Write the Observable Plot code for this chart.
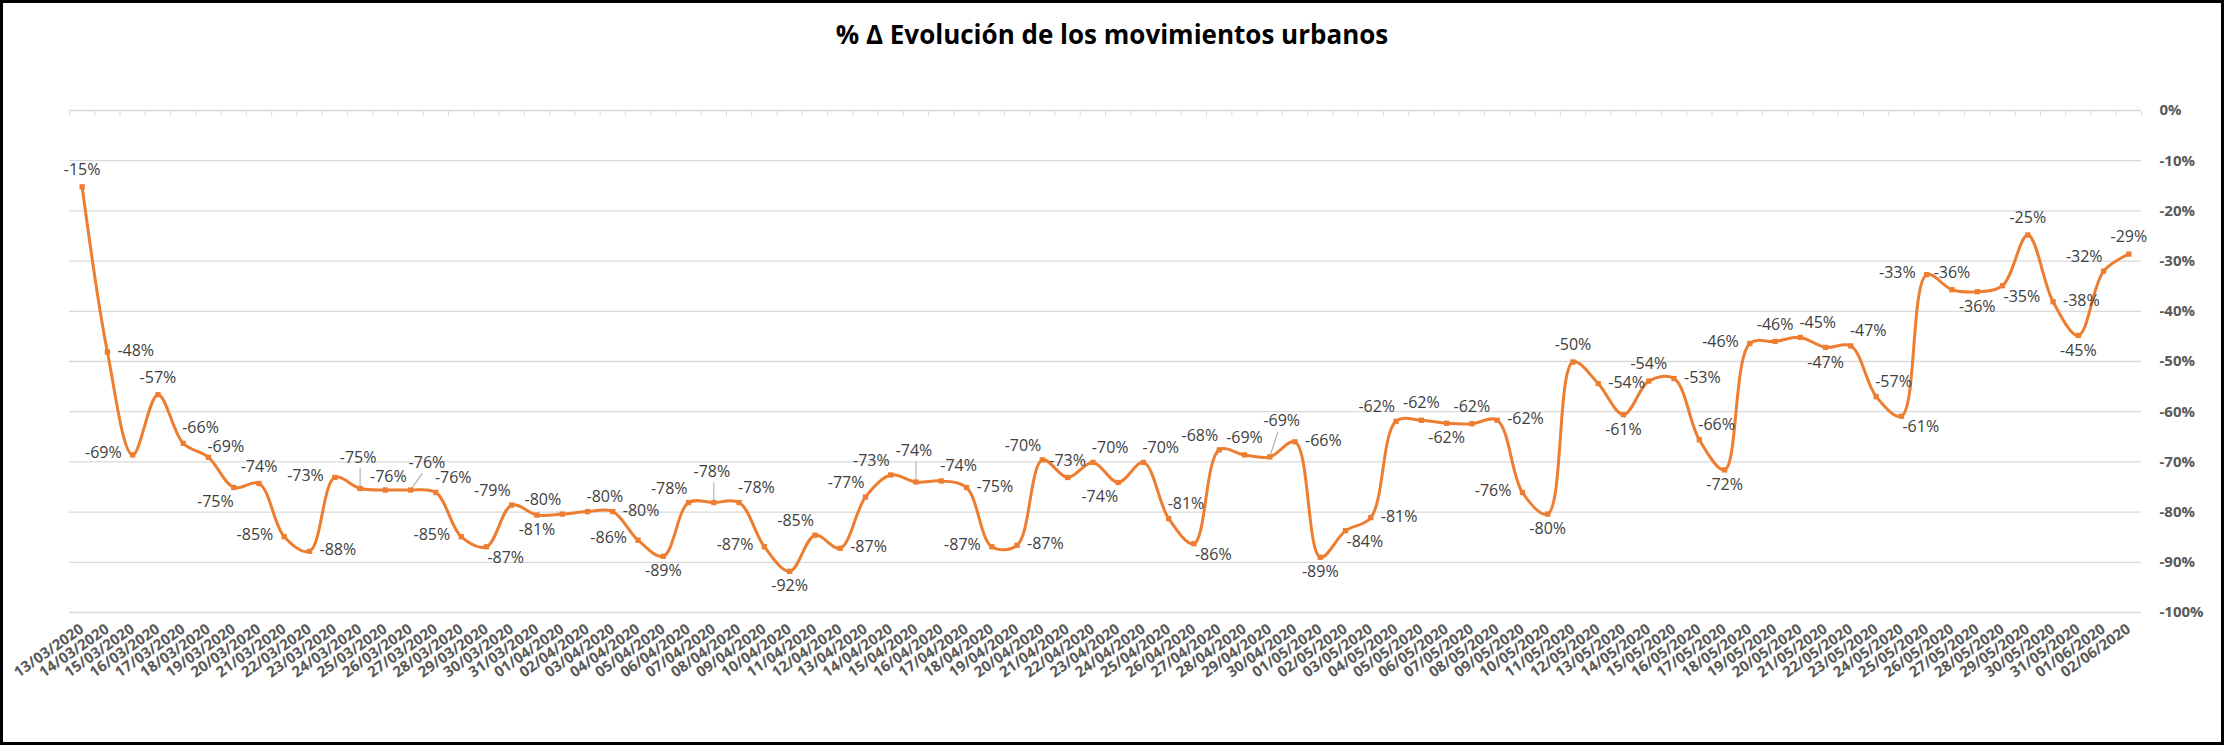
<!DOCTYPE html>
<html><head><meta charset="utf-8">
<script src="https://cdn.jsdelivr.net/npm/d3@7"></script>
<script src="https://cdn.jsdelivr.net/npm/@observablehq/plot@0.6"></script>
<style>
html,body{margin:0;padding:0;background:#fff;}
#wrap{position:relative;width:2224px;height:745px;overflow:hidden;background:#fff;}
#frame{position:absolute;left:0;top:0;width:2224px;height:745px;box-sizing:border-box;border:3px solid #000;pointer-events:none;z-index:3}
#title{position:absolute;left:0;top:16px;width:2224px;text-align:center;font-family:"Open Sans";font-weight:700;font-size:26px;line-height:36px;color:#000;z-index:2}
#chart{position:absolute;left:0;top:0;z-index:1}
</style></head><body>
<div id="wrap"><div id="title">% Δ Evolución de los movimientos urbanos</div><div id="chart"></div><div id="frame"></div></div>
<script>
const dates = [
"13/03/2020","14/03/2020","15/03/2020","16/03/2020","17/03/2020","18/03/2020","19/03/2020","20/03/2020","21/03/2020","22/03/2020",
"23/03/2020","24/03/2020","25/03/2020","26/03/2020","27/03/2020","28/03/2020","29/03/2020","30/03/2020","31/03/2020",
"01/04/2020","02/04/2020","03/04/2020","04/04/2020","05/04/2020","06/04/2020","07/04/2020","08/04/2020","09/04/2020","10/04/2020",
"11/04/2020","12/04/2020","13/04/2020","14/04/2020","15/04/2020","16/04/2020","17/04/2020","18/04/2020","19/04/2020","20/04/2020",
"21/04/2020","22/04/2020","23/04/2020","24/04/2020","25/04/2020","26/04/2020","27/04/2020","28/04/2020","29/04/2020","30/04/2020",
"01/05/2020","02/05/2020","03/05/2020","04/05/2020","05/05/2020","06/05/2020","07/05/2020","08/05/2020","09/05/2020","10/05/2020",
"11/05/2020","12/05/2020","13/05/2020","14/05/2020","15/05/2020","16/05/2020","17/05/2020","18/05/2020","19/05/2020","20/05/2020",
"21/05/2020","22/05/2020","23/05/2020","24/05/2020","25/05/2020","26/05/2020","27/05/2020","28/05/2020","29/05/2020","30/05/2020",
"31/05/2020","01/06/2020","02/06/2020"];

const values = [
-15.2,-48.1,-68.6,-56.6,-66.3,-69.1,-75.1,-74.3,-84.9,-87.8,
-73.1,-75.3,-75.6,-75.6,-76.1,-84.9,-86.9,-78.6,-80.6,
-80.4,-79.9,-79.9,-85.6,-88.8,-78.1,-78.1,-78.1,-86.9,-91.8,
-84.6,-87.2,-77.0,-72.6,-74.0,-73.8,-75.1,-86.9,-86.6,-69.6,
-73.1,-70.1,-74.1,-70.1,-81.3,-86.3,-67.6,-68.6,-69.0,-66.0,
-89.0,-83.7,-81.1,-61.9,-61.7,-62.3,-62.4,-61.7,-76.1,-80.4,
-50.1,-54.4,-60.6,-53.9,-53.4,-65.6,-71.6,-46.4,-46.0,-45.2,
-47.2,-46.9,-57.0,-60.9,-32.7,-35.7,-36.1,-34.9,-24.8,-38.1,
-44.8,-32.0,-28.6];

// where each data label sits relative to its marker
// t=above, m=just above, b=below, l=left, r=right, tl/tr/bl/br/rt=diagonal,
// T/TR/TT=raised with a leader line
const labelPlacement = [
"t","r","l","t","tr","rt","bl","t","l","r",
"l","T","m","TR","tr","l","br","tl","b",
"tl","tr","r","l","b","tl","T","tr","l","b",
"tl","r","tl","tl","T","tr","r","l","r","tl",
"t","tr","bl","tr","tr","br","tl","t","TT","r",
"b","br","r","tl","t","b","t","r","l","b",
"t","r","b","t","r","tr","b","l","t","tr",
"b","tr","tr","br","l","t","b","br","t","r",
"b","tl","t"];

const yTicks = [0,-10,-20,-30,-40,-50,-60,-70,-80,-90,-100];

const W = 2224, H = 745;
const mL = 69, mR = 83, mT = 110, mB = 133;
const step = (W - mL - mR) / dates.length;

const data = dates.map((d, i) => ({date: d, value: values[i], pos: labelPlacement[i]}));
const pct = v => `${Math.round(v)}%`;

const placements = {
  t:  {dx: 0,   dy: -17, textAnchor: "middle"},
  m:  {dx: 3,   dy: -13, textAnchor: "middle"},
  T:  {dx: -2,  dy: -31, textAnchor: "middle"},
  TT: {dx: 12,  dy: -36, textAnchor: "middle"},
  b:  {dx: 0,   dy: 15,  textAnchor: "middle"},
  l:  {dx: -11, dy: -2,  textAnchor: "end"},
  r:  {dx: 10,  dy: -1,  textAnchor: "start"},
  tl: {dx: -1,  dy: -14, textAnchor: "end"},
  tr: {dx: -1,  dy: -15, textAnchor: "start"},
  rt: {dx: -1,  dy: -11, textAnchor: "start"},
  TR: {dx: -2,  dy: -27, textAnchor: "start"},
  bl: {dx: 0,   dy: 14,  textAnchor: "end"},
  br: {dx: 1,   dy: 11,  textAnchor: "start"}
};

const labelMarks = Object.entries(placements).map(([code, o]) =>
  Plot.text(data.filter(d => d.pos === code), {
    x: "date", y: "value", text: d => pct(d.value),
    dx: o.dx, dy: o.dy, textAnchor: o.textAnchor,
    fill: "#404040", fontSize: 16, fontFamily: "Open Sans"
  })
);

const leader = (len) => ({draw(ctx) { ctx.moveTo(0, -3); ctx.lineTo(0, -len); }});
const leaderMark = (code, len, angle) =>
  Plot.vector(data.filter(d => d.pos === code), {
    x: "date", y: "value", length: len, rotate: angle, anchor: "start",
    stroke: "#a6a6a6", strokeWidth: 1, shape: leader(len)
  });

const chart = Plot.plot({
  width: W, height: H,
  marginLeft: mL, marginRight: mR, marginTop: mT, marginBottom: mB,
  x: {type: "point", domain: dates, padding: 0.5, round: false},
  y: {domain: [-100, 0]},
  style: {fontFamily: "Open Sans", background: "transparent", overflow: "visible"},
  marks: [
    Plot.gridY(yTicks, {stroke: "#d9d9d9", strokeOpacity: 1, strokeWidth: 1.3}),
    Plot.axisX({anchor: "top", tickSize: 5, tickFormat: () => "", dx: -step / 2, dy: 5, stroke: "#d9d9d9", strokeOpacity: 1, label: null}),
    Plot.axisX([dates[dates.length - 1]], {anchor: "top", tickSize: 5, tickFormat: () => "", dx: step / 2, dy: 5, stroke: "#d9d9d9", strokeOpacity: 1, label: null}),
    Plot.axisX({anchor: "bottom", tickSize: 0, tickPadding: 15, tickRotate: -35, fontWeight: "bold", fontSize: 15, fill: "#595959", label: null}),
    Plot.axisY(yTicks, {anchor: "right", tickSize: 0, tickPadding: 18, tickFormat: d => `${d}%`, fontWeight: "bold", fontSize: 15, fill: "#595959", textAnchor: "start", label: null}),
    leaderMark("T", 20, 0),
    leaderMark("TT", 26, 18),
    leaderMark("TR", 20, 35),
    Plot.line(data, {x: "date", y: "value", curve: "catmull-rom", stroke: "#ED7D31", strokeWidth: 3}),
    Plot.dot(data, {x: "date", y: "value", symbol: "square", r: 3, fill: "#ED7D31", stroke: "none"}),
    ...labelMarks
  ]
});
document.getElementById("chart").appendChild(chart);
</script>
</body></html>
